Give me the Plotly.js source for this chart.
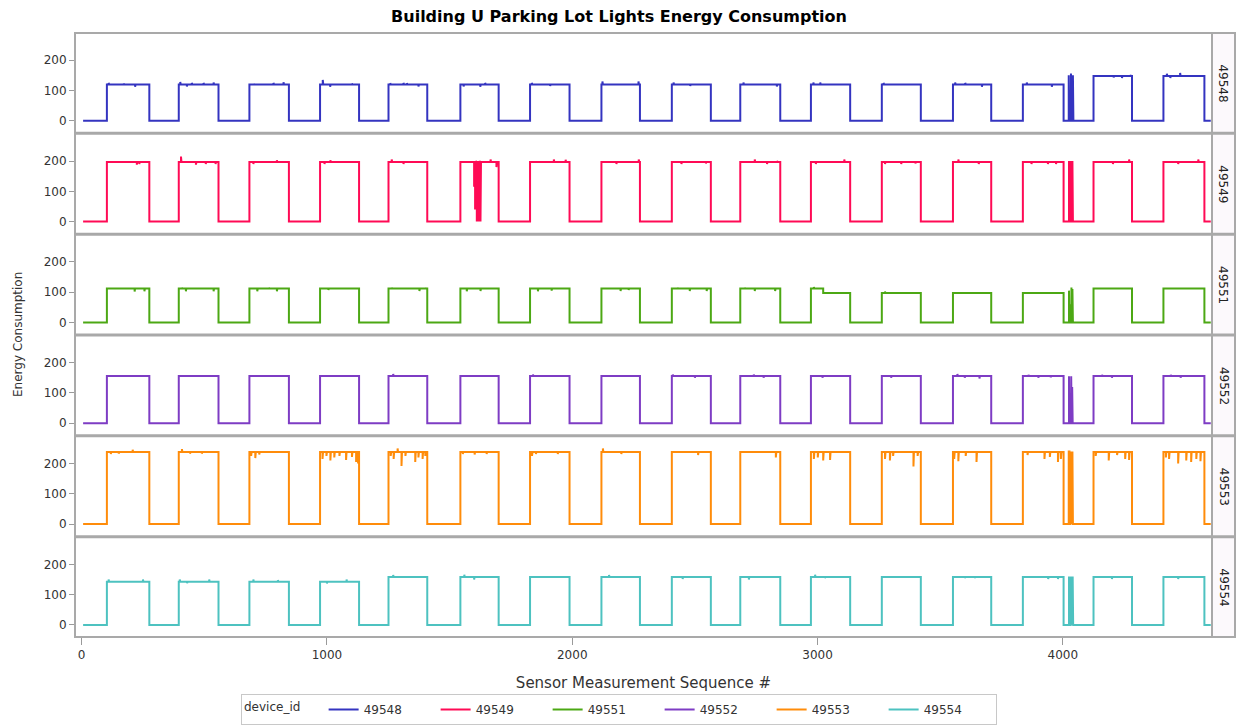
<!DOCTYPE html>
<html><head><meta charset="utf-8">
<script src="https://cdn.plot.ly/plotly-3.0.1.min.js"></script>
<style>html,body{margin:0;padding:0;background:#fff}#chart{width:1238px;height:725px}</style>
</head><body><div id="chart"></div>
<script>
// ---------------- DATA ----------------
const deviceIds = ['49548', '49549', '49551', '49552', '49553', '49554'];

// Sequence numbers where the lights switch on / off (shared by all devices)
const riseX = [103, 396, 684, 972, 1251, 1544, 1828, 2119, 2406, 2685, 2973, 3262, 3552, 3837, 4125, 4410];
const fallX = [276, 558, 845, 1131, 1409, 1700, 1989, 2276, 2565, 2848, 3133, 3421, 3708, 4003, 4282, 4577];
const firstX = 6;
const lastX = 4603;

// "On" level of each cycle, per device
const level_49548 = [120, 120, 120, 120, 120, 120, 120, 120, 120, 120, 120, 120, 120, 120, 148, 148];
const level_49549 = [197, 197, 197, 197, 197, 197, 197, 197, 197, 197, 197, 197, 197, 197, 197, 197];
const level_49551 = [112, 112, 112, 112, 112, 112, 112, 112, 112, 112, 112, 97, 97, 97, 112, 112];
const level_49552 = [156, 156, 156, 156, 156, 156, 156, 156, 156, 156, 156, 156, 156, 156, 156, 156];
const level_49553 = [238, 238, 238, 238, 238, 238, 238, 238, 238, 238, 238, 238, 238, 238, 238, 238];
const level_49554 = [143, 143, 143, 143, 158, 158, 158, 158, 158, 158, 158, 158, 158, 158, 158, 158];

// Momentary readings that depart from the cycle level (spikes / dips)
const spikeX_49548 = [110, 171, 218, 402, 429, 449, 497, 538, 701, 782, 823, 983, 1013, 1102, 1258, 1312, 1326, 1373, 1557, 1625, 1645, 1835, 1910, 2123, 2270, 2413, 2481, 2698, 2834, 2983, 3011, 3269, 3561, 3602, 3670, 3853, 3955, 4024, 4028, 4033, 4037, 4041, 4207, 4241, 4275, 4424, 4438, 4478, 4492];
const spikeY_49548 = [125, 123, 112, 128, 113, 125, 125, 126, 122, 125, 127, 135, 112, 123, 124, 125, 124, 113, 113, 112, 125, 125, 115, 130, 130, 126, 115, 126, 113, 126, 126, 125, 126, 125, 112, 126, 112, 150, 100, 156, 120, 150, 143, 141, 151, 155, 141, 158, 148];

const spikeX_49549 = [225, 235, 405, 466, 506, 546, 700, 796, 990, 1014, 1264, 1312, 1393, 1600, 1604, 1607, 1611, 1614, 1618, 1622, 1626, 1667, 1691, 1925, 1973, 2180, 2271, 2445, 2545, 2744, 2794, 2835, 2993, 3109, 3275, 3341, 3399, 3574, 3657, 3872, 3939, 3972, 4025, 4029, 4035, 4039, 4204, 4270, 4470, 4552];
const spikeY_49549 = [188, 190, 215, 188, 190, 190, 190, 203, 190, 203, 205, 190, 195, 115, 40, 200, 0, 195, 0, 200, 0, 205, 180, 205, 204, 190, 205, 190, 192, 205, 190, 200, 190, 205, 190, 190, 192, 205, 190, 190, 190, 190, 200, 200, 200, 200, 190, 205, 190, 205];

const spikeX_49551 = [216, 256, 409, 425, 538, 716, 764, 796, 1006, 1264, 1377, 1401, 1570, 1626, 1860, 1916, 2197, 2230, 2429, 2479, 2548, 2703, 2744, 2827, 2985, 3275, 4025, 4029, 4035, 4039];
const spikeY_49551 = [102, 103, 115, 103, 103, 103, 115, 103, 107, 115, 104, 114, 103, 104, 103, 105, 104, 107, 115, 104, 104, 115, 104, 104, 117, 102, 105, 60, 115, 110];
const stepX_49551 = [3023];
const stepY_49551 = [97];

const spikeX_49552 = [1270, 1840, 2410, 2500, 2740, 2780, 3020, 3300, 3570, 3600, 3660, 3860, 3900, 3950, 4025, 4029, 4034, 4038, 4160, 4200, 4440, 4480];
const spikeY_49552 = [163, 161, 161, 150, 161, 150, 150, 150, 163, 150, 148, 160, 150, 152, 155, 100, 155, 120, 160, 150, 160, 150];

const spikeX_49553 = [119, 151, 208, 409, 442, 490, 691, 708, 724, 982, 998, 1014, 1030, 1051, 1078, 1102, 1119, 1127, 1260, 1272, 1288, 1304, 1320, 1360, 1373, 1390, 1401, 1554, 1602, 1651, 1836, 1852, 1941, 2125, 2200, 2513, 2830, 2985, 3001, 3023, 3051, 3275, 3295, 3308, 3391, 3408, 3557, 3574, 3604, 3648, 3856, 3925, 3947, 3980, 3992, 4024, 4027, 4031, 4035, 4039, 4134, 4187, 4221, 4254, 4270, 4420, 4433, 4470, 4503, 4523, 4544, 4561];
const spikeY_49553 = [232, 233, 246, 248, 233, 233, 225, 218, 230, 215, 225, 210, 220, 225, 212, 222, 205, 200, 225, 215, 250, 192, 225, 205, 220, 215, 225, 232, 230, 232, 225, 232, 232, 250, 232, 228, 220, 215, 220, 210, 212, 215, 210, 225, 190, 225, 215, 208, 225, 205, 228, 215, 222, 205, 215, 240, 240, 240, 240, 240, 225, 210, 228, 215, 212, 220, 215, 200, 210, 205, 215, 208];

const spikeX_49554 = [110, 250, 400, 430, 520, 700, 800, 1000, 1080, 1270, 1560, 1600, 2150, 2450, 2720, 2990, 3030, 3600, 3640, 3940, 3980, 4025, 4028, 4032, 4036, 4040, 4200, 4470];
const spikeY_49554 = [150, 150, 150, 138, 150, 150, 148, 137, 150, 165, 166, 150, 165, 152, 150, 166, 155, 155, 155, 152, 152, 160, 80, 160, 100, 160, 152, 152];

const yTickVals = [0, 100, 200];
const xTickVals = [0, 1000, 2000, 3000, 4000];

// ---------------- STYLE ----------------
const seriesColors = ['#3434C0', '#FF0A55', '#4CA814', '#7E3CC4', '#FF8C0A', '#4DC2C0'];
const FONT = 'DejaVu Sans, Verdana, sans-serif';
const W = 1238, H = 725;
const M = {l: 75, r: 26, t: 33, b: 88};
const plotH = H - M.t - M.b;
const plotW = W - M.l - M.r;
const gapPx = 1;
const panelPx = (plotH - gapPx * 5) / 6;
const stripPx = 23;
const borderColor = '#a9a9a9';

// ---------------- BUILD ----------------
function buildSeries(levels, spX, spY, stX, stY) {
  const events = [];
  spX.forEach((x, i) => events.push({x: x, y: spY[i], kind: 'spike'}));
  (stX || []).forEach((x, i) => events.push({x: x, y: stY[i], kind: 'step'}));
  events.sort((a, b) => a.x - b.x);
  const xs = [firstX], ys = [0];
  let ei = 0;
  function flush(limit, base) {
    let cur = base;
    while (ei < events.length && events[ei].x < limit) {
      const e = events[ei++];
      if (e.kind === 'spike') { xs.push(e.x, e.x, e.x + 2); ys.push(cur, e.y, cur); }
      else { xs.push(e.x, e.x); ys.push(cur, e.y); cur = e.y; }
    }
    return cur;
  }
  for (let c = 0; c < riseX.length; c++) {
    flush(riseX[c], 0);
    xs.push(riseX[c], riseX[c]); ys.push(0, levels[c]);
    const cur = flush(fallX[c], levels[c]);
    xs.push(fallX[c], fallX[c]); ys.push(cur, 0);
  }
  flush(Infinity, 0);
  xs.push(lastX); ys.push(0);
  return {xs, ys};
}

const seriesDefs = [
  [level_49548, spikeX_49548, spikeY_49548, null, null],
  [level_49549, spikeX_49549, spikeY_49549, null, null],
  [level_49551, spikeX_49551, spikeY_49551, stepX_49551, stepY_49551],
  [level_49552, spikeX_49552, spikeY_49552, null, null],
  [level_49553, spikeX_49553, spikeY_49553, null, null],
  [level_49554, spikeX_49554, spikeY_49554, null, null]
];

const traces = [];
const layout = {
  width: W, height: H,
  margin: M,
  paper_bgcolor: '#ffffff', plot_bgcolor: '#ffffff',
  font: {family: FONT, size: 12, color: '#333333'},
  showlegend: true,
  title: {
    text: 'Building U Parking Lot Lights Energy Consumption',
    x: 0.5, xref: 'container', xanchor: 'center',
    y: 1 - 16 / H, yref: 'container', yanchor: 'middle',
    font: {family: FONT, size: 16, weight: 'bold', color: '#000000'}
  },
  xaxis: {
    range: [-27, 4608], anchor: 'y6', domain: [0, 1],
    tickvals: xTickVals, ticktext: xTickVals.map(String),
    ticks: 'outside', ticklen: 7, tickcolor: '#9a9a9a', tickwidth: 1,
    showgrid: false, zeroline: false, showline: false,
    tickfont: {family: FONT, size: 12, color: '#333333'},
    title: {text: 'Sensor Measurement Sequence #', font: {family: FONT, size: 15, color: '#333333'}, standoff: 16}
  },
  shapes: [], annotations: [],
  legend: {
    orientation: 'h', x: 0.5, xref: 'container', xanchor: 'center',
    y: 1 - 694 / H, yref: 'container', yanchor: 'top',
    bordercolor: '#c8c8c8', borderwidth: 1, bgcolor: '#ffffff',
    font: {family: FONT, size: 12, color: '#333333'},
    title: {text: 'device_id&nbsp;&nbsp;&nbsp;&nbsp;', side: 'left', font: {family: FONT, size: 12, color: '#333333'}},
    entrywidth: 67, itemwidth: 30, tracegroupgap: 0
  }
};

deviceIds.forEach((id, i) => {
  const d = seriesDefs[i];
  const s = buildSeries(d[0], d[1], d[2], d[3], d[4]);
  const yName = i === 0 ? 'y' : 'y' + (i + 1);
  const axKey = i === 0 ? 'yaxis' : 'yaxis' + (i + 1);
  traces.push({
    type: 'scatter', mode: 'lines', name: id,
    x: s.xs, y: s.ys, xaxis: 'x', yaxis: yName,
    line: {color: seriesColors[i], width: 2},
    hoverinfo: 'skip'
  });
  const topPx = i * (panelPx + gapPx);
  const botPx = topPx + panelPx;
  const dom = [1 - botPx / plotH, 1 - topPx / plotH];
  layout[axKey] = {
    domain: dom, anchor: 'x', range: [-40, 290],
    tickvals: yTickVals, ticks: 'outside', ticklen: 5, tickcolor: '#9a9a9a',
    showgrid: false, zeroline: false, showline: false,
    tickfont: {family: FONT, size: 12, color: '#333333'}
  };
  layout.shapes.push({type: 'rect', xref: 'paper', yref: 'paper', x0: 0, x1: 1, y0: dom[0], y1: dom[1],
    line: {color: borderColor, width: 2}, fillcolor: 'rgba(0,0,0,0)', layer: 'above'});
  layout.shapes.push({type: 'rect', xref: 'paper', yref: 'paper', x0: 1, x1: 1 + stripPx / plotW, y0: dom[0], y1: dom[1],
    line: {color: borderColor, width: 2}, fillcolor: '#fcf9fc', layer: 'below'});
  layout.annotations.push({xref: 'paper', yref: 'paper', x: 1 + stripPx / 2 / plotW, y: (dom[0] + dom[1]) / 2,
    text: id, showarrow: false, textangle: 90, xanchor: 'center', yanchor: 'middle',
    font: {family: FONT, size: 12, color: '#222222'}});
});

layout.annotations.push({xref: 'paper', yref: 'paper', x: (18 - M.l) / plotW, y: 0.5,
  text: 'Energy Consumption', showarrow: false, textangle: -90, xanchor: 'center', yanchor: 'middle',
  font: {family: FONT, size: 12, color: '#333333'}});

Plotly.newPlot('chart', traces, layout, {staticPlot: true, displayModeBar: false});
</script>
</body></html>
